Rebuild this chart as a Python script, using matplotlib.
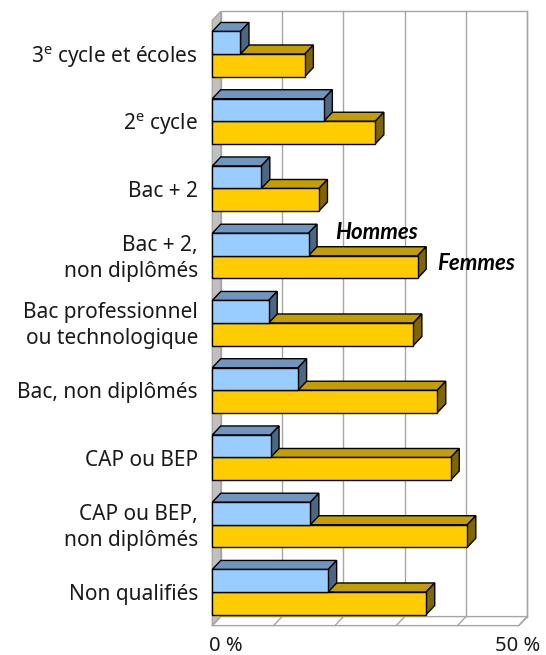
import matplotlib
matplotlib.use("Agg")
import matplotlib.pyplot as plt
from matplotlib.patches import Polygon

plt.rcParams['font.family'] = ['Noto Sans', 'DejaVu Sans']
plt.rcParams['mathtext.fontset'] = 'custom'
plt.rcParams['mathtext.rm'] = 'Noto Sans'

categories = ["3$^{\\mathrm{e}}$ cycle et écoles", "2$^{\\mathrm{e}}$ cycle", "Bac + 2",
              "Bac + 2,\nnon diplômés", "Bac professionnel\nou technologique",
              "Bac, non diplômés", "CAP ou BEP", "CAP ou BEP,\nnon diplômés",
              "Non qualifiés"]
hommes = [4.6, 18.2, 8.0, 15.7, 9.2, 14.0, 9.5, 16.0, 18.9]
femmes = [15.1, 26.6, 17.4, 33.5, 32.8, 36.7, 38.9, 41.6, 34.9]
xticks = [0, 10, 20, 30, 40, 50]

# 3D look: depth offsets in data units
dx, dy = 1.39, -0.134
bh = 0.335
grid_c = "#a6a6a6"

fig = plt.figure(figsize=(5.46, 6.55), dpi=100)
ax = fig.add_axes([0, 0, 1, 1])
ax.set_xlim(-34.63, 54.44)
ax.set_ylim(8.937, -0.803)
ax.axis("off")

top, bot = -0.5, 8.5
# back wall
ax.add_patch(Polygon([(dx, top + dy), (50 + dx, top + dy), (50 + dx, bot + dy), (dx, bot + dy)],
                     closed=True, fc="white", ec=grid_c, lw=1, zorder=1))
for x in xticks[1:]:
    ax.plot([x + dx, x + dx], [top + dy, bot + dy], color=grid_c, lw=1, zorder=1)
# left wall
ax.add_patch(Polygon([(0, top), (dx, top + dy), (dx, bot + dy), (0, bot)],
                     closed=True, fc="#c0c0c0", ec=grid_c, lw=1, zorder=1.5))
# floor
ax.add_patch(Polygon([(0, bot), (50, bot), (50 + dx, bot + dy), (dx, bot + dy)],
                     closed=True, fc="white", ec=grid_c, lw=1, zorder=1.5))
for x in xticks:
    ax.plot([x, x + dx], [bot, bot + dy], color=grid_c, lw=1, zorder=1.6)


def bar3d(y0, val, front, topc, side, z):
    y1 = y0 + bh
    ax.add_patch(Polygon([(0, y0), (dx, y0 + dy), (val + dx, y0 + dy), (val, y0)],
                         closed=True, fc=topc, ec="black", lw=1, zorder=z))
    ax.add_patch(Polygon([(val, y0), (val + dx, y0 + dy), (val + dx, y1 + dy), (val, y1)],
                         closed=True, fc=side, ec="black", lw=1, zorder=z))
    ax.barh(y0 + bh / 2, val, height=bh, left=0, color=front, edgecolor="black",
            lw=1, zorder=z + 0.1)


for i, (h, f) in enumerate(zip(hommes, femmes)):
    bar3d(i, f, "#ffcc00", "#c39e00", "#806600", 3 + i)
    bar3d(i - bh, h, "#99ccff", "#7096c0", "#4d6682", 3.5 + i)
    ax.text(-2.35, i + 0.04, categories[i], ha="right", va="center", fontsize=15,
            linespacing=1.3, color="#1a1a1a")

ax.text(20.0, 2.66, "Hommes", fontsize=16, fontweight="bold", fontstyle="italic",
        family=["Lato", "DejaVu Sans"], ha="left", va="center", zorder=20)
ax.text(36.7, 3.11, "Femmes", fontsize=16, fontweight="bold", fontstyle="italic",
        family=["Lato", "DejaVu Sans"], ha="left", va="center", zorder=20)

ax.text(-0.6, 8.8, "0 %", fontsize=14.5, ha="left", va="center", color="#1a1a1a")
ax.text(49.8, 8.8, "50 %", fontsize=14.5, ha="center", va="center", color="#1a1a1a")

fig.savefig("out.png", dpi=100)
